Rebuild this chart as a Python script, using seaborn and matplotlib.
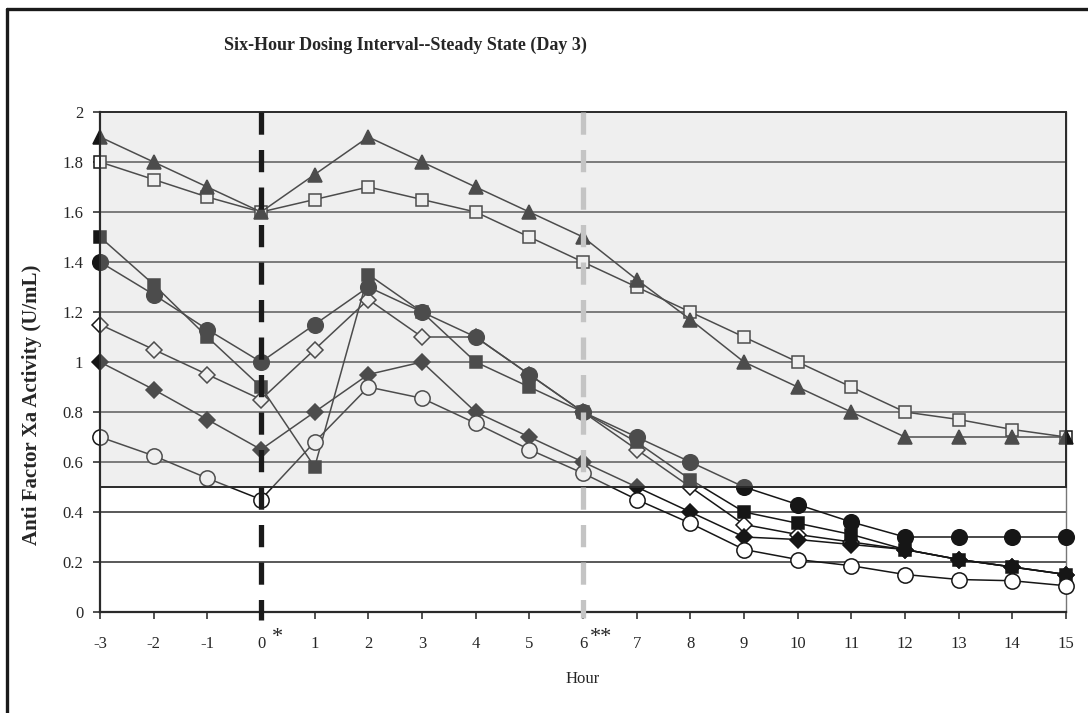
import matplotlib
matplotlib.use("Agg")
import matplotlib.pyplot as plt
from matplotlib.patches import Rectangle
from matplotlib.lines import Line2D
import seaborn as sns
import pandas as pd

# data
hours = [-3, -2, -1, 0, 1, 2, 3, 4, 5, 6, 7, 8, 9, 10, 11, 12, 13, 14, 15]
triangle_filled = [1.9, 1.8, 1.7, 1.6, 1.75, 1.9, 1.8, 1.7, 1.6, 1.5, 1.33, 1.17, 1.0, 0.9, 0.8, 0.7, 0.7, 0.7, 0.7]
square_open = [1.8, 1.73, 1.66, 1.6, 1.65, 1.7, 1.65, 1.6, 1.5, 1.4, 1.3, 1.2, 1.1, 1.0, 0.9, 0.8, 0.77, 0.73, 0.7]
square_filled = [1.5, 1.31, 1.1, 0.9, 0.58, 1.35, 1.2, 1.0, 0.9, 0.8, 0.68, 0.53, 0.4, 0.355, 0.31, 0.25, 0.21, 0.18, 0.15]
circle_filled = [1.4, 1.27, 1.13, 1.0, 1.15, 1.3, 1.2, 1.1, 0.95, 0.8, 0.7, 0.6, 0.5, 0.43, 0.36, 0.3, 0.3, 0.3, 0.3]
diamond_open = [1.15, 1.05, 0.95, 0.85, 1.05, 1.25, 1.1, 1.1, 0.95, 0.8, 0.65, 0.5, 0.35, 0.31, 0.28, 0.25, 0.21, 0.18, 0.15]
diamond_filled = [1.0, 0.89, 0.77, 0.65, 0.8, 0.95, 1.0, 0.8, 0.7, 0.6, 0.5, 0.4, 0.3, 0.29, 0.27, 0.25, 0.21, 0.18, 0.15]
circle_open = [0.7, 0.625, 0.535, 0.45, 0.68, 0.9, 0.855, 0.755, 0.65, 0.555, 0.45, 0.355, 0.25, 0.21, 0.185, 0.15, 0.13, 0.125, 0.105]

ytick_vals = [0, 0.2, 0.4, 0.6, 0.8, 1, 1.2, 1.4, 1.6, 1.8, 2]
ytick_labels = ["0", "0.2", "0.4", "0.6", "0.8", "1", "1.2", "1.4", "1.6", "1.8", "2"]

sns.set_style("white")
plt.rcParams["font.family"] = ["Liberation Serif", "DejaVu Serif"]
plt.rcParams["lines.scale_dashes"] = False

ink = "#161616"
fig = plt.figure(figsize=(10.88, 7.13), dpi=100)
ax = fig.add_axes([100 / 1088, 1 - 612 / 713, 966 / 1088, 500 / 713])

# series in drawing order: (values, marker, size, filled)
series = [
    (diamond_open, "D", 7.8, False),
    (square_filled, "s", 8.8, True),
    (diamond_filled, "D", 8.0, True),
    (circle_open, "o", 11.0, False),
    (circle_filled, "o", 11.2, True),
    (square_open, "s", 8.5, False),
    (triangle_filled, "^", 10.5, True),
]
for vals, mk, ms, filled in series:
    df = pd.DataFrame({"hour": hours, "val": vals})
    sns.lineplot(data=df, x="hour", y="val", ax=ax, color=ink, linewidth=1.1,
                 marker=mk, markersize=ms, markeredgewidth=1.1,
                 markerfacecolor=ink if filled else "white", markeredgecolor=ink,
                 clip_on=False, zorder=3, sort=False)

# shaded band drawn over the series
ax.add_patch(Rectangle((-3, 0.5), 18, 1.5, facecolor="#cccccc", alpha=0.3,
                       edgecolor="none", zorder=4, clip_on=False))
ax.add_patch(Rectangle((-3, 0.5), 18, 1.5, fill=False, edgecolor="#2a2a2a",
                       linewidth=1.4, zorder=5, clip_on=False))

# dosing markers
ax.plot([0, 0], [2.0, -0.03], color="#1a1a1a", linewidth=3.8,
        linestyle=(0, (16, 11)), zorder=6, clip_on=False)
ax.plot([6, 6], [2.0, -0.025], color="#c4c4c4", linewidth=3.8,
        linestyle=(0, (16, 11)), zorder=6, clip_on=False)

ax.set_xlim(-3, 15)
ax.set_ylim(0, 2)
ax.set_xticks(hours)
ax.set_xticklabels([str(h) for h in hours])
ax.set_yticks(ytick_vals)
ax.set_yticklabels(ytick_labels)
for y in ytick_vals[1:-1]:
    ax.axhline(y, color="#3c3c3c", linewidth=1.2, zorder=1)

ax.tick_params(axis="x", direction="out", length=5, width=1.2, color="#333333",
               pad=12, labelsize=12, bottom=True)
ax.tick_params(axis="y", direction="out", length=5, width=1.2, color="#333333",
               pad=7, labelsize=12, left=True)

for side in ["left", "bottom"]:
    ax.spines[side].set_color("#2a2a2a")
    ax.spines[side].set_linewidth(1.6)
ax.spines["right"].set_color("#777777")
ax.spines["right"].set_linewidth(1.0)
ax.spines["top"].set_visible(False)

ax.set_xlabel("Hour", fontsize=12, labelpad=14)
ax.set_ylabel("Anti Factor Xa Activity (U/mL)", fontsize=15, fontweight="bold")
ax.yaxis.set_label_coords(-0.060, 0.414)

trans = ax.get_xaxis_transform()
ax.text(0.3, -0.052, "*", transform=trans, fontsize=16, ha="center", va="center")
ax.text(6.33, -0.052, "**", transform=trans, fontsize=16, ha="center", va="center")

fig.text(405 / 1088, 1 - 45 / 713, "Six-Hour Dosing Interval--Steady State (Day 3)",
         fontsize=13, fontweight="bold", ha="center", va="center")

# outer frame (left and top)
fig.add_artist(Line2D([7 / 1088, 7 / 1088], [0, 1 - 9 / 713], color="#1a1a1a",
                      linewidth=2.4, transform=fig.transFigure))
fig.add_artist(Line2D([7 / 1088, 1], [1 - 9 / 713, 1 - 9 / 713], color="#1a1a1a",
                      linewidth=2.4, transform=fig.transFigure))

fig.savefig("out.png", dpi=100)
